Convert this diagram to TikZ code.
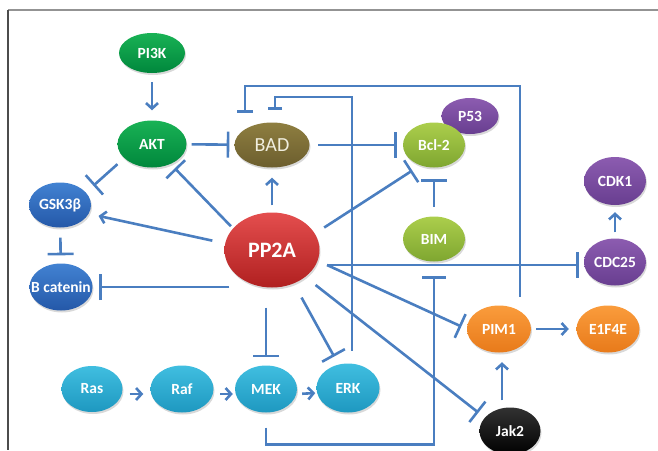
\documentclass[tikz,border=0pt]{standalone}
\usepackage{fontspec}
\setmainfont{Carlito}
\usetikzlibrary{arrows.meta,shapes.geometric,shadows,calc}
\definecolor{lc}{RGB}{74,126,192}
\begin{document}
\begin{tikzpicture}[x=1pt,y=-1pt,
  bub/.style={ellipse, inner sep=0pt, text=white, minimum width=62pt, minimum height=46pt,
    font=\fontsize{15.5}{18}\selectfont\bfseries,
    drop shadow={opacity=0.3,shadow xshift=1pt,shadow yshift=-2pt}},
  gnode/.style={bub, top color={rgb,255:red,25;green,178;blue,85}, bottom color={rgb,255:red,0;green,135;blue,60}},
  badnode/.style={bub, top color={rgb,255:red,142;green,126;blue,64}, bottom color={rgb,255:red,108;green,94;blue,46}, text={rgb,255:red,240;green,238;blue,222}, font=\fontsize{20}{24}\selectfont},
  bnode/.style={bub, top color={rgb,255:red,66;green,130;blue,210}, bottom color={rgb,255:red,36;green,88;blue,168}},
  rnode/.style={bub, top color={rgb,255:red,228;green,78;blue,78}, bottom color={rgb,255:red,176;green,32;blue,32}, font=\fontsize{22}{26}\selectfont\bfseries},
  ynode/.style={bub, top color={rgb,255:red,172;green,206;blue,76}, bottom color={rgb,255:red,126;green,166;blue,48}},
  pnode/.style={bub, top color={rgb,255:red,140;green,92;blue,176}, bottom color={rgb,255:red,104;green,62;blue,144}},
  onode/.style={bub, top color={rgb,255:red,250;green,156;blue,60}, bottom color={rgb,255:red,232;green,122;blue,26}},
  knode/.style={bub, top color={rgb,255:red,50;green,50;blue,50}, bottom color=black},
  cnode/.style={bub, top color={rgb,255:red,64;green,190;blue,224}, bottom color={rgb,255:red,30;green,152;blue,192}},
  lnk/.style={draw=lc, line width=2.6pt},
  act/.style={lnk, -{Straight Barb[length=5.5pt,width=12pt]}},
  inh/.style={lnk, -{Bar[width=26pt]}},
]
\useasboundingbox (0,0) rectangle (658,450);
\draw[gray!85, line width=1.5pt] (8,10) -- (658,10);
\draw[black!70, line width=1.5pt] (8,10) -- (8,450);

% nodes
\node[gnode, minimum width=66pt, minimum height=40pt] (PI3K) at (152,53) {PI3K};
\node[gnode, minimum width=69pt, minimum height=47pt] (AKT) at (152,144) {AKT};
\node[badnode, minimum width=75pt, minimum height=45pt] (BAD) at (272,145) {BAD};
\node[bnode, minimum height=45pt] (GSK) at (60,205) {\makebox[0pt]{GSK3β}};
\node[bnode, minimum width=63pt, minimum height=47pt] (Bcat) at (61,287) {\makebox[0pt]{B catenin}};
\node[rnode, minimum width=95pt, minimum height=75pt] (PP2A) at (272,250) {PP2A};
\node[pnode, minimum width=57pt, minimum height=36pt] (P53) at (470,116) {P53};
\node[ynode, minimum height=45pt] (Bcl2) at (434,145) {Bcl-2};
\node[pnode, minimum height=48pt] (CDK1) at (615,181) {CDK1};
\node[ynode, minimum height=45pt] (BIM) at (434,239) {BIM};
\node[pnode, minimum height=47pt] (CDC25) at (615,262) {CDC25};
\node[onode, minimum width=64pt, minimum height=47pt] (PIM1) at (499,329) {PIM1};
\node[onode, minimum width=63pt, minimum height=47pt] (E1F4E) at (608,329) {E1F4E};
\node[knode, minimum width=61pt, minimum height=47pt] (Jak2) at (510,431) {Jak2};
\node[cnode, minimum width=61pt] (Ras) at (92,389) {Ras};
\node[cnode, minimum width=63pt, minimum height=47pt] (Raf) at (182,389) {Raf};
\node[cnode, minimum height=47pt] (MEK) at (266,389) {MEK};
\node[cnode, minimum width=63pt, minimum height=49pt] (ERK) at (348,388) {ERK};

% connectors
\draw[act, shorten <=9pt, shorten >=10pt] (PI3K) -- (AKT);
\draw[inh, shorten <=5pt, shorten >=5pt] (AKT) -- (BAD);
\draw[inh, shorten <=9pt, shorten >=10pt] (AKT.207) -- (GSK.26);
\draw[inh, shorten <=3pt, shorten >=6pt] (PP2A.151) -- (AKT.-47);
\draw[act, shorten <=13pt, shorten >=10pt] (PP2A.172) -- (GSK.-17);
\draw[inh, shorten <=10pt, shorten >=8pt] (GSK) -- (Bcat);
\draw[inh, shorten >=6.5pt] ($(Bcat -| PP2A.west)+(5,0)$) -- (Bcat.east);
\draw[act, shorten <=7pt, shorten >=10pt] (PP2A) -- (BAD);
\draw[inh, shorten <=8.5pt, shorten >=6pt] (BAD) -- (Bcl2);
\draw[inh, shorten <=11pt, shorten >=9.5pt] (PP2A.21) -- (Bcl2.236);
\draw[inh, shorten <=9.5pt, shorten >=11.5pt] (BIM) -- (Bcl2);
\coordinate (hub) at ($(PP2A.center)+(55,15)$);
\draw[inh, shorten >=5pt] (hub) -- (hub -| CDC25.west);
\draw[inh, shorten >=6pt] (hub) -- (PIM1.west);
\draw[inh, shorten <=13pt, shorten >=8pt] (PP2A.-39) -- (Jak2.152);
\draw[inh, shorten <=20pt, shorten >=8pt] (PP2A.south -| MEK) -- (MEK);
\draw[inh, shorten <=16pt, shorten >=9pt] (PP2A.-57.5) -- (ERK.112);
\draw[act, shorten <=7pt, shorten >=7pt] ([yshift=-5pt]Ras.east) -- ([yshift=-5pt]Raf.west);
\draw[act, shorten <=6.5pt, shorten >=2pt] ([yshift=-5pt]Raf.east) -- ([yshift=-5pt]MEK.west);
\draw[act, shorten <=5pt, shorten >=1pt] ([yshift=-5pt]MEK.east) -- ([yshift=-5pt]ERK.west);
\draw[lnk, -{Bar[width=14pt]}] ([xshift=4pt,yshift=12.5pt]ERK.north) |- ([xshift=3pt,yshift=25.5pt]BAD.north) -- ([xshift=3pt,yshift=12.5pt]BAD.north);
\draw[lnk, -{Bar[width=16pt]}] ([xshift=21pt,yshift=8.5pt]PIM1.north) |- ([xshift=-27pt,yshift=36.5pt]BAD.north) -- ([xshift=-27pt,yshift=9.5pt]BAD.north);
\draw[lnk, -{Bar[width=24pt]}] ([yshift=-15pt]MEK.south) -- ++(0,17) -| ([yshift=-14.5pt]BIM.south);
\draw[act, shorten <=5pt, shorten >=7.5pt] (PIM1) -- (E1F4E);
\draw[act] ($(Jak2.north -| PIM1.south)+(3,-7)$) -- ([xshift=3pt,yshift=-9.5pt]PIM1.south);
\draw[act, shorten <=6pt, shorten >=7pt] (CDC25) -- (CDK1);
\end{tikzpicture}
\end{document}
